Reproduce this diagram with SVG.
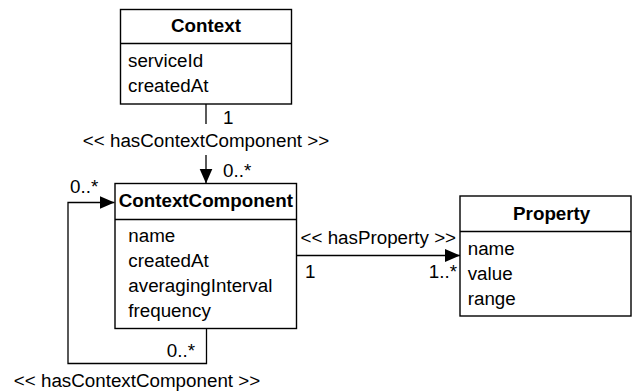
<svg xmlns="http://www.w3.org/2000/svg" width="632" height="391" viewBox="0 0 632 391">
  <style>
    text { font-family: "Liberation Sans", Arial, Helvetica, sans-serif; font-size: 18.8px; fill: #000; }
    .title { font-weight: bold; text-anchor: middle; }
    .box { fill: #fff; stroke: #000; stroke-width: 1.4; }
    .div { stroke: #000; stroke-width: 1.4; }
    .conn { fill: none; stroke: #000; stroke-width: 1.3; }
  </style>
  <defs>
    <marker id="arrow" markerUnits="userSpaceOnUse" markerWidth="16" markerHeight="14" refX="15" refY="6.5" orient="auto">
      <path d="M0,0 L15,6.5 L0,13 Z" fill="#000"/>
    </marker>
  </defs>
  <rect width="632" height="391" fill="#fff"/>

  <g id="connectors">
    <!-- Context -> ContextComponent (split by its label) -->
    <path class="conn" d="M206,104 V124"/>
    <path class="conn" d="M206,155 V183.5" marker-end="url(#arrow)"/>
    <text x="223" y="123.5">1</text>
    <text x="206" y="146.5" text-anchor="middle">&lt;&lt; hasContextComponent &gt;&gt;</text>
    <text x="223" y="177">0..*</text>

    <!-- ContextComponent self association -->
    <path class="conn" d="M206.5,328.5 V363.5 H68 V202.5 H114.5" marker-end="url(#arrow)"/>
    <text x="70" y="193">0..*</text>
    <text x="195" y="357" text-anchor="end">0..*</text>
    <text x="137" y="386.5" text-anchor="middle">&lt;&lt; hasContextComponent &gt;&gt;</text>

    <!-- ContextComponent -> Property -->
    <path class="conn" d="M296.5,255.5 H460" marker-end="url(#arrow)"/>
    <text x="300.5" y="243.5">&lt;&lt; hasProperty &gt;&gt;</text>
    <text x="305" y="278">1</text>
    <text x="457" y="278" text-anchor="end">1..*</text>
  </g>

  <g id="Context">
    <rect class="box" x="120.5" y="9.5" width="171" height="94.5"/>
    <line class="div" x1="120.5" y1="43.5" x2="291.5" y2="43.5"/>
    <text class="title" x="206" y="32">Context</text>
    <text x="128" y="67">serviceId</text>
    <text x="128" y="92">createdAt</text>
  </g>

  <g id="ContextComponent">
    <rect class="box" x="115" y="183.5" width="181.5" height="145"/>
    <line class="div" x1="115" y1="219.5" x2="296.5" y2="219.5"/>
    <text class="title" x="205.8" y="206.5">ContextComponent</text>
    <text x="128.3" y="242">name</text>
    <text x="128.3" y="267">createdAt</text>
    <text x="128.3" y="292">averagingInterval</text>
    <text x="128.3" y="317">frequency</text>
  </g>

  <g id="Property">
    <rect class="box" x="460" y="196" width="171" height="120"/>
    <line class="div" x1="460" y1="231.5" x2="631" y2="231.5"/>
    <text class="title" x="551.7" y="219.5">Property</text>
    <text x="467.7" y="254.5">name</text>
    <text x="467.7" y="279.5">value</text>
    <text x="467.7" y="304.5">range</text>
  </g>
</svg>
